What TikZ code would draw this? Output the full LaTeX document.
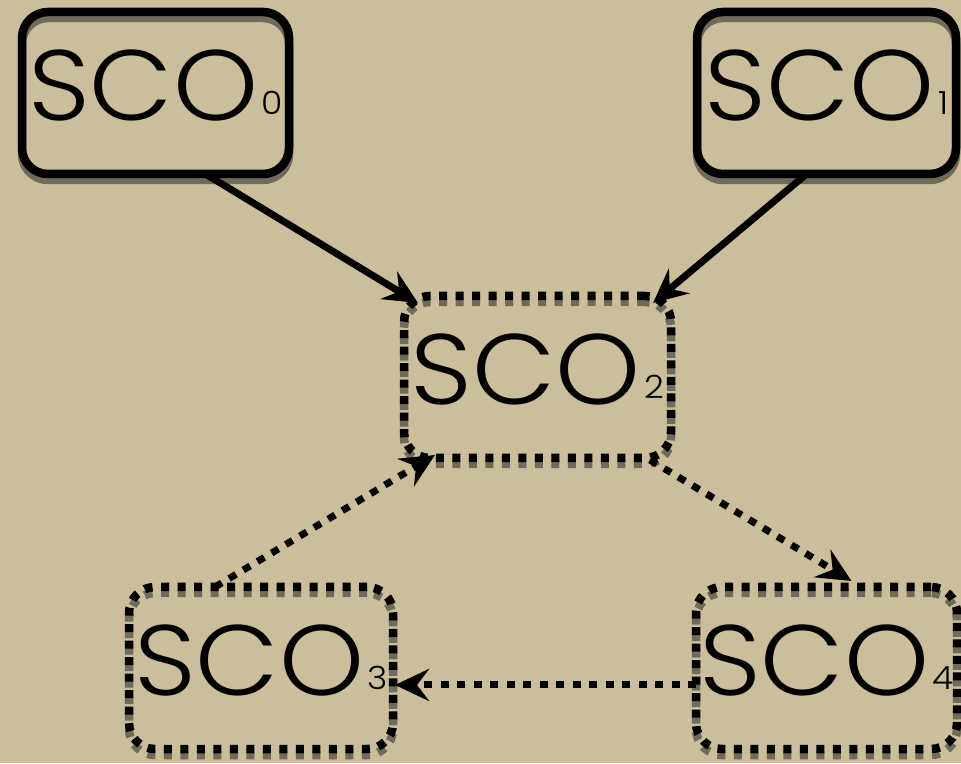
\documentclass[tikz,border=0pt]{standalone}
\usepackage{fontspec}
\setmainfont{Poppins}[UprightFont=* Light]
\usetikzlibrary{arrows.meta}
\definecolor{paper}{RGB}{202,190,155}
\definecolor{shade}{RGB}{112,106,90}
\newcommand\scoidx[1]{\kern3pt\raisebox{6pt}{\fontsize{32}{32}\selectfont #1}}
\newcommand\sco[1]{\scalebox{1.08}[1]{SCO\scoidx{#1}}}
\tikzset{
  box/.style={rounded corners=26pt, minimum width=#1, minimum height=162pt,
    inner sep=0pt, outer sep=0pt, line width=8.5pt, text height=72pt, text depth=16pt,
    font=\fontsize{100}{100}\selectfont},
  solidbox/.style={box=#1, draw=black,
    preaction={draw=shade, transform canvas={yshift=-6pt}}},
  dotbox/.style={box=#1, draw=black, dash pattern=on 8pt off 8.5pt,
    preaction={draw=shade, dash pattern=on 8pt off 8.5pt, transform canvas={yshift=-6pt}}},
  link/.style={line width=7pt, -{Stealth[length=34pt,width=32pt,inset=12pt]}},
  dotlink/.style={link, dash pattern=on 8pt off 8.5pt}
}
\begin{document}
\begin{tikzpicture}[x=1pt,y=1pt]
  \fill[paper] (0,0) rectangle (961,763);
  \useasboundingbox (0,0) rectangle (961,763);

  % top row: solid boxes
  \node[solidbox=267pt] (s0) at (155.5,670) {\sco{0}};
  \node[solidbox=259pt] (s1) at (826.5,670) {\sco{1}};
  % middle and bottom: dotted boxes
  \node[dotbox=267pt] (s2) at (537.5,386) {\sco{2}};
  \node[dotbox=264pt] (s3) at (261,95) {\sco{3}};
  \node[dotbox=261pt] (s4) at (826.5,95) {\sco{4}};

  % connectors
  \draw[link] ([xshift=50pt]s0.south) -- ([shift={(14pt,-7pt)}]s2.north west);
  \draw[link] ([xshift=-20pt]s1.south) -- ([shift={(-18pt,-7pt)}]s2.north east);
  \draw[dotlink] ([xshift=-46pt]s3.north) -- ([shift={(31pt,3pt)}]s2.south west);
  \draw[dotlink] ([shift={(-21pt,-2pt)}]s2.south east) -- ([shift={(25pt,6pt)}]s4.north);
  \draw[dotlink] ([yshift=-17pt]s4.west) -- ([shift={(2pt,-17pt)}]s3.east);
\end{tikzpicture}
\end{document}
